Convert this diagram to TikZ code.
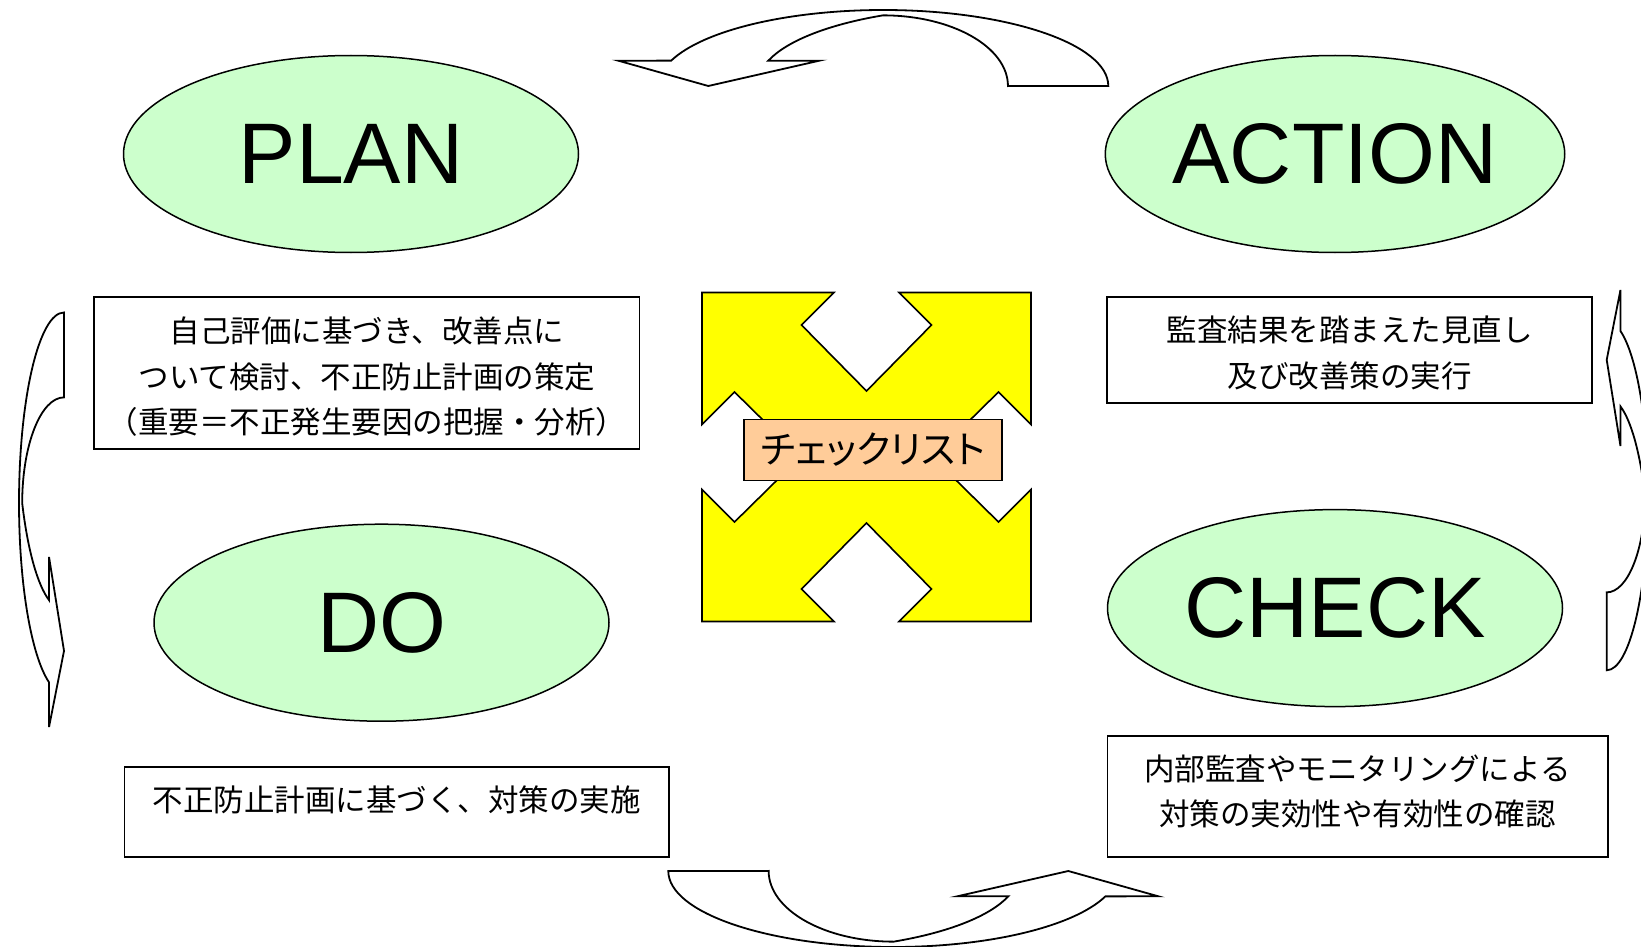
\documentclass[tikz,border=0pt]{standalone}
\usepackage{fontspec}
\setmainfont{Liberation Sans}
\newfontfamily\jpfont{Noto Sans CJK JP}
\newfontfamily\jppropfont[RawFeature=+palt]{Noto Sans CJK JP}
\usetikzlibrary{shapes.geometric}
\definecolor{pdcagreen}{HTML}{CCFFCC}
\definecolor{crossyellow}{HTML}{FFFF00}
\definecolor{tagpeach}{HTML}{FFCC99}
\newcommand{\pdcabandpath}{(1008.3,86) -- (1108.3,86)
  arc[start angle=0, end angle=160.5, x radius=225pt, y radius=76pt]
  -- (618.3,60.7) -- (708.3,86) -- (819.3,60.7) -- (768.3,60.7)
  arc[start angle=162.6, end angle=116.4, x radius=225pt, y radius=76pt]
  arc[start angle=90, end angle=0, x radius=125pt, y radius=70.7pt] -- cycle}
\tikzset{
  phase/.style={ellipse, draw, line width=1.5pt, fill=pdcagreen,
    minimum width=455pt, minimum height=197pt, inner sep=0pt,
    font=\fontsize{86}{86}\selectfont},
  descbox/.style={draw, line width=1.7pt, fill=white, inner sep=0pt,
    font=\jpfont\fontsize{30.5}{45.5}\selectfont},
  curvearrow/.style={draw, line width=1.8pt, fill=white, line join=miter},
  crossshape/.style={draw, line width=1.6pt, fill=crossyellow, line join=miter},
  tagbox/.style={draw, line width=1.6pt, fill=tagpeach, inner sep=0pt,
    minimum width=257.5pt, minimum height=60.7pt,
    font=\jppropfont\fontsize{38}{38}\selectfont}
}
\begin{document}
\begin{tikzpicture}[x=1pt, y=-1pt]
\useasboundingbox (0,0) rectangle (1641,947);
\clip (0,0) rectangle (1641,947);
\fill[white] (0,0) rectangle (1641,947);

% curved arrows
\draw[curvearrow] \pdcabandpath;
\begin{scope}[cm={-1,0,0,-1,(1776.6pt,-957pt)}]
  \draw[curvearrow] \pdcabandpath;
\end{scope}
\begin{scope}[cm={0,0.846,-0.592,0,(13.1pt,-1250.1pt)}]
  \draw[curvearrow] \pdcabandpath;
\end{scope}
\begin{scope}[cm={0,-0.776,0.543,0,(1653.4pt,189.8pt)}]
  \draw[curvearrow] \pdcabandpath;
\end{scope}

% phases
\node[phase] (plan) at (351,154) {PLAN};
\node[phase] (action) at (1335,154) {ACTION};
\node[phase] (do) at (381.5,622.7) {DO};
\node[phase] (check) at (1335,608.1) {CHECK};

% description boxes
\node[descbox, align=center, minimum width=545.3pt, minimum height=151.8pt] (plantext) at (366.9,373.1)
  {\rule{0pt}{33pt}自己評価に基づき、改善点に\\ついて検討、不正防止計画の策定\\（重要＝不正発生要因の把握・分析）};
\node[descbox, align=center, minimum width=484.6pt, minimum height=105.7pt] (actiontext) at (1349.6,350)
  {\rule{0pt}{32pt}監査結果を踏まえた見直し\\及び改善策の実行};
\node[descbox, minimum width=544.3pt, minimum height=90pt, text height=25pt, text depth=27.4pt] (dotext) at (396.7,812.2)
  {不正防止計画に基づく、対策の実施};
\node[descbox, align=center, minimum width=500.3pt, minimum height=121.4pt] (checktext) at (1357.5,796.5)
  {内部監査やモニタリングによる\\対策の実効性や有効性の確認\rule[-13pt]{0pt}{13pt}};

% central cross of four arrows
\begin{scope}[shift={(866.5,457)}]
  \draw[crossshape] (-164.5,-164.5) -- (-32.5,-164.5) -- (-65,-132) -- (0,-66) -- (65,-132) -- (32.5,-164.5)
    -- (164.5,-164.5) -- (164.5,-32.5) -- (132,-65) -- (66,0) -- (132,65) -- (164.5,32.5)
    -- (164.5,164.5) -- (32.5,164.5) -- (65,132) -- (0,66) -- (-65,132) -- (-32.5,164.5)
    -- (-164.5,164.5) -- (-164.5,32.5) -- (-132,65) -- (-66,0) -- (-132,-65) -- (-164.5,-32.5) -- cycle;
\end{scope}
\node[tagbox] (checklist) at (873,450) {チェックリスト};
\end{tikzpicture}
\end{document}
